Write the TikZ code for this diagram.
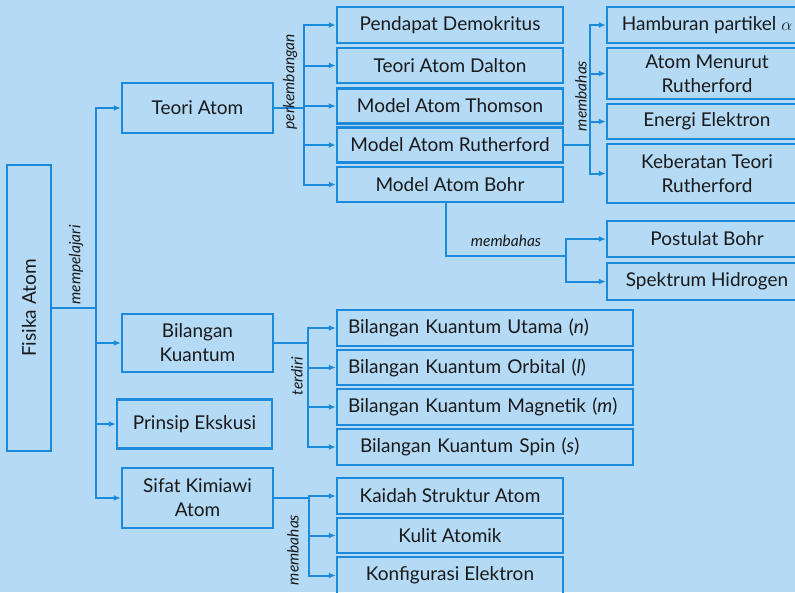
\documentclass[tikz,border=0pt]{standalone}
\usepackage{fontspec}
\setmainfont{Lato}
\usetikzlibrary{arrows.meta}
\definecolor{bg}{HTML}{B4DAF6}
\definecolor{ln}{HTML}{1C8ADB}
\definecolor{tx}{HTML}{1A1A1A}
\tikzset{
  box/.style={draw=ln, line width=2.4pt, rectangle, inner sep=0pt, text=tx, font=\fontsize{19}{24}\selectfont, align=center},
  lbox/.style={box, text width=274pt, align=left},
  conn/.style={draw=ln, line width=2pt},
  arr/.style={conn, -{Latex[length=7pt,width=6pt]}},
  lbl/.style={text=tx, font=\itshape\fontsize{15.5}{18}\selectfont, inner sep=0pt}
}
\begin{document}
\begin{tikzpicture}[x=1pt,y=-1pt]
\useasboundingbox (0,0) rectangle (795,592);
\clip (0,0) rectangle (795,592);
\fill[bg] (0,0) rectangle (795,592);
% level 0
\node[box, minimum width=44, minimum height=286] (fisika) at (29,308) {\rotatebox{90}{Fisika Atom}};
% level 1
\node[box, minimum width=151, minimum height=50] (teori) at (197.5,108) {Teori Atom};
\node[box, minimum width=151, minimum height=58] (bk) at (197.5,343) {Bilangan\\Kuantum};
\node[box, minimum width=155, minimum height=49] (prinsip) at (194.5,424) {Prinsip Ekskusi};
\node[box, minimum width=151, minimum height=60] (sifat) at (197.5,498) {Sifat Kimiawi\\Atom};
% teori children
\node[box, minimum width=226, minimum height=36] (demo) at (450,25) {Pendapat Demokritus};
\node[box, minimum width=226, minimum height=35] (dalton) at (450,65.5) {Teori Atom Dalton};
\node[box, minimum width=226, minimum height=35] (thomson) at (450,106) {Model Atom Thomson};
\node[box, minimum width=226, minimum height=35] (ruth) at (450,145) {Model Atom Rutherford};
\node[box, minimum width=226, minimum height=35] (bohr) at (450,184.5) {Model Atom Bohr};
% rutherford children
\node[box, minimum width=200, minimum height=36] (hamb) at (707,25) {Hamburan partikel $\alpha$};
\node[box, minimum width=200, minimum height=51] (menurut) at (707,73.5) {Atom Menurut\\Rutherford};
\node[box, minimum width=200, minimum height=35] (energi) at (707,121.5) {Energi Elektron};
\node[box, minimum width=200, minimum height=59] (keberatan) at (707,173.5) {Keberatan Teori\\Rutherford};
% bohr children
\node[box, minimum width=200, minimum height=36] (post) at (707,239) {Postulat Bohr};
\node[box, minimum width=200, minimum height=37] (spek) at (707,281.5) {Spektrum Hidrogen};
% bilangan kuantum children
\node[lbox, minimum width=296, minimum height=36] (utama) at (485,328) {Bilangan Kuantum Utama (\textit{n})};
\node[lbox, minimum width=296, minimum height=35] (orbital) at (485,367.5) {Bilangan Kuantum Orbital (\textit{l})};
\node[lbox, minimum width=296, minimum height=36] (magnetik) at (485,407) {Bilangan Kuantum Magnetik (\textit{m})};
\node[lbox, minimum width=296, minimum height=36] (spin) at (485,447) {\hspace*{12pt}Bilangan Kuantum Spin (\textit{s})};
% sifat children
\node[box, minimum width=226, minimum height=36] (kaidah) at (450,496) {Kaidah Struktur Atom};
\node[box, minimum width=226, minimum height=35] (kulit) at (450,535.5) {Kulit Atomik};
\node[box, minimum width=226, minimum height=37] (konfig) at (450,575.5) {Konfigurasi Elektron};
% connectors
\foreach \t in {teori,bk,prinsip,sifat}
  \draw[arr] (fisika.east) -- ++(44,0) |- (\t.west);
\foreach \t in {demo,dalton,thomson,ruth,bohr}
  \draw[arr] (teori.east) -- ++(30,0) |- (\t.west);
\foreach \t in {hamb,menurut,energi,keberatan}
  \draw[arr] (ruth.east) -- ++(26,0) |- (\t.west);
\foreach \t in {utama,orbital,magnetik,spin}
  \draw[arr] (bk.east) -- ++(34,0) |- (\t.west);
\foreach \t in {kaidah,kulit,konfig}
  \draw[arr] (sifat.east) -- ++(35,0) |- (\t.west);
\coordinate (bj) at (566,256);
\draw[conn] ([xshift=-4pt]bohr.south) |- (bj);
\draw[arr] (bj) |- (post.west);
\draw[arr] (bj) |- (spek.west);
% labels
\node[lbl, rotate=90] (l1) at (76,265) {mempelajari};
\node[lbl, rotate=90] (l2) at (290,82) {perkembangan};
\node[lbl, rotate=90] (l3) at (581,96) {membahas};
\node[lbl] (l4) at (506,241) {membahas};
\node[lbl, rotate=90] (l5) at (297,376) {terdiri};
\node[lbl, rotate=90] (l6) at (293,550) {membahas};
\end{tikzpicture}
\end{document}
